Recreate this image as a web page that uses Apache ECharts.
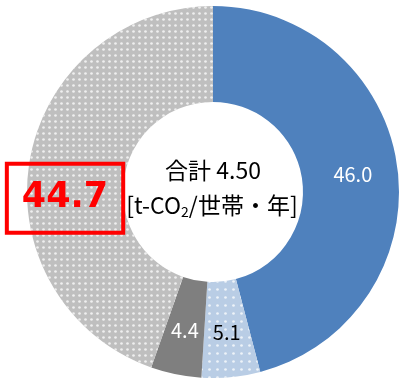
<!DOCTYPE html>
<html><head><meta charset="utf-8">
<script src="https://cdn.jsdelivr.net/npm/echarts@6/dist/echarts.min.js"></script>
<style>html,body{margin:0;padding:0;background:#fff}#c{width:404px;height:379px}</style>
</head><body><div id="c"></div>
<script>
const categories = ['A', 'B', 'C', 'D'];
const values = [46.0, 5.1, 4.4, 44.7];
const totalLabel = '4.50';
const unitLabel = ['[t-CO', '2', '/世帯・年]'];

const CJK = '"Noto Sans CJK JP", "Noto Sans", sans-serif';
const dotDecal = (gap) => ({
  symbol: 'circle', symbolSize: 0.9, color: 'rgba(255,255,255,0.75)',
  dashArrayX: [3, gap - 3],
  dashArrayY: [3, gap - 3]
});
const styles = [
  { color: '#4F81BD', label: { color: '#fff' } },
  { color: '#B9CDE5', decal: dotDecal(8), label: { color: '#000' } },
  { color: '#7F7F7F', label: { color: '#fff' } },
  { color: '#BFBFBF', decal: dotDecal(6), label: {
      color: '#FF0000', fontSize: 35, fontWeight: 'bold', fontFamily: 'DejaVu Sans',
      borderColor: '#FF0000', borderWidth: 4, padding: [19, 15, 15, 15],
      offset: [-9, 30] } }
];
const data = values.map((v, i) => ({
  name: categories[i], value: v,
  itemStyle: { color: styles[i].color, decal: styles[i].decal },
  label: styles[i].label
}));

const chart = echarts.init(document.getElementById('c'));
chart.setOption({
  animation: false,
  series: [{
    type: 'pie', center: [213, 192], radius: [90, 186], startAngle: 90, clockwise: true,
    avoidLabelOverlap: false,
    label: { show: true, position: 'inside', fontSize: 20, fontFamily: CJK,
      formatter: p => p.value.toFixed(1) },
    labelLine: { show: false },
    emphasis: { disabled: true },
    data: data
  }],
  graphic: [{
    type: 'text', x: 213, y: 170,
    style: { text: '合計 ' + totalLabel, font: '23px ' + CJK, fill: '#000', align: 'center', verticalAlign: 'middle' }
  }, {
    type: 'text', x: 212, y: 205,
    style: { text: unitLabel[0] + '{s|' + unitLabel[1] + '}' + unitLabel[2],
      font: '23px ' + CJK, fill: '#000', align: 'center', verticalAlign: 'middle',
      rich: { s: { fontSize: 14, fontFamily: CJK, padding: [13, 0, 0, 0] } } }
  }]
});
</script></body></html>
